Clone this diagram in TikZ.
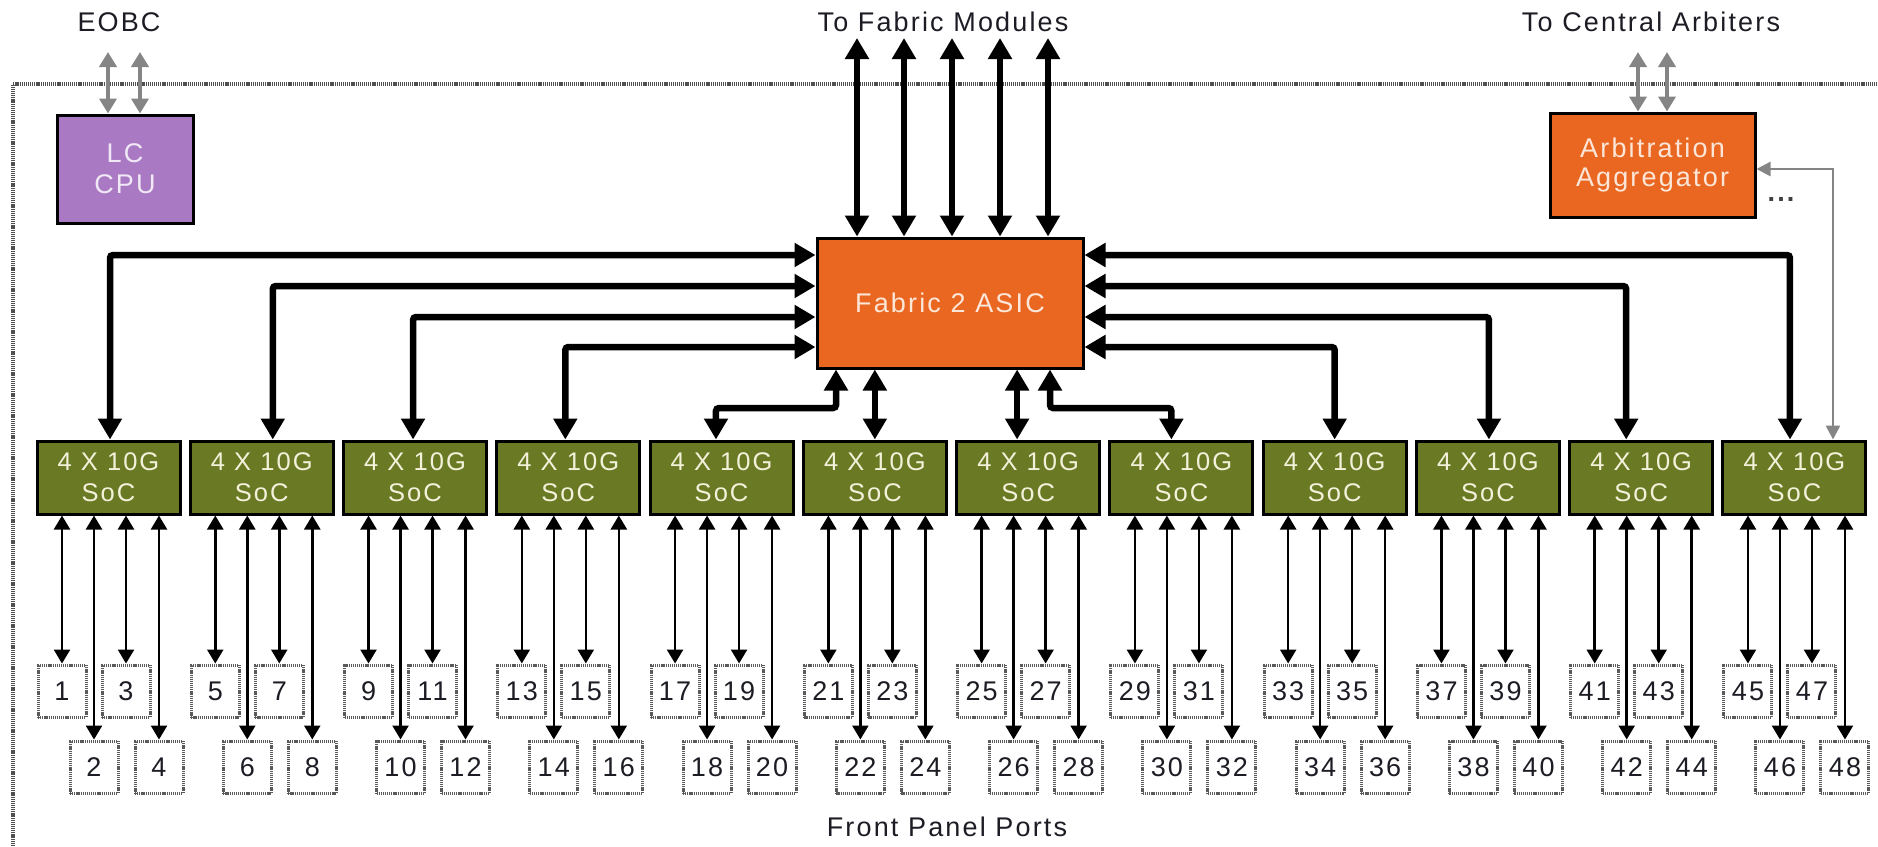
\documentclass[tikz,border=0pt]{standalone}
\usepackage{fontspec}
\setmainfont{Liberation Sans}[LetterSpace=8]
\usetikzlibrary{arrows.meta}
\definecolor{cpufill}{HTML}{A97AC3}
\definecolor{cputext}{HTML}{F1E8F6}
\definecolor{orangefill}{HTML}{EA6722}
\definecolor{orangetext}{HTML}{FCE6D8}
\definecolor{socfill}{HTML}{6A7A24}
\definecolor{soctext}{HTML}{F3F1DA}
\definecolor{inktext}{HTML}{1C1C24}
\definecolor{graywire}{HTML}{858585}
\definecolor{framegray}{HTML}{505050}
\definecolor{portgray}{HTML}{5A5A5A}
\begin{document}
\begin{tikzpicture}[x=1pt,y=-1pt,
  lbl/.style={font=\fontsize{27}{31}\selectfont, text=inktext, inner sep=0pt},
  box/.style={draw=black, line width=3pt, inner sep=0pt, align=center},
  cpubox/.style={box, fill=cpufill, text=cputext, minimum width=136pt, minimum height=108pt, font=\fontsize{27}{31}\selectfont},
  asicbox/.style={box, fill=orangefill, text=orangetext, minimum width=266pt, minimum height=130pt, font=\fontsize{27}{31}\selectfont},
  arbbox/.style={box, fill=orangefill, text=orangetext, minimum width=205pt, minimum height=104pt, font=\fontsize{27}{29}\selectfont},
  socbox/.style={box, fill=socfill, text=soctext, minimum width=143pt, minimum height=73pt, font=\fontsize{25.5}{31}\selectfont},
  portbox/.style={draw=portgray, line width=3pt, dash pattern=on 1.2pt off 0.9pt, fill=white, minimum width=48pt, minimum height=52pt, inner sep=0pt, font=\fontsize{27}{30}\selectfont, text=inktext},
  frameline/.style={draw=framegray, line width=3.5pt, dash pattern=on 1.2pt off 0.9pt},
  bus/.style={line width=6.5pt, draw=black, rounded corners=3pt, arrows={Triangle[length=21pt,width=23pt]-Triangle[length=21pt,width=23pt]}},
  lane/.style={line width=2.5pt, draw=black, arrows={Triangle[length=14pt,width=16pt]-Triangle[length=14pt,width=16pt]}},
  mgmt/.style={line width=4pt, draw=graywire, arrows={Triangle[length=15pt,width=17pt]-Triangle[length=15pt,width=17pt]}},
  arbwire/.style={line width=2.5pt, draw=graywire, arrows={Triangle[length=14pt,width=14pt]-Triangle[length=14pt,width=14pt]}},
]
\useasboundingbox (0,0) rectangle (1878,846);

% outer line-card frame (only top and left edges visible)
\draw[frameline] (13,846) -- (13,84) -- (1878,84);

% labels
\node[lbl] (eobc) at (119,22) {EOBC};
\node[lbl] (fmlbl) at (943,22) {To Fabric Modules};
\node[lbl] (calbl) at (1651,22) {To Central Arbiters};
\node[lbl] (fpp) at (947,827) {Front Panel Ports};

% main blocks
\node[cpubox] (cpu) at (125,169) {LC\\CPU};
\node[asicbox] (asic) at (950,303) {Fabric 2 ASIC};
\node[arbbox] (arb) at (1652.5,165) {Arbitration\\Aggregator};
\node[lbl, text=darkgray, font=\bfseries\fontsize{27}{31}\selectfont] (dots) at (1781,199) {...};

\coordinate (topend) at (0,38);
\coordinate (mgmtend) at (0,52);
\coordinate (elb) at (0,408);

% fabric module links
\foreach \dx in {-93,-46,2,50,98}
  \draw[bus] ([xshift=\dx pt]asic.north) -- ([xshift=\dx pt]asic.north |- topend);

% EOBC and central arbiter links
\foreach \dx in {-17,15}
  \draw[mgmt] ([xshift=\dx pt]cpu.north) -- ([xshift=\dx pt]cpu.north |- mgmtend);
\foreach \dx in {-14.5,14.5}
  \draw[mgmt] ([xshift=\dx pt]arb.north) -- ([xshift=\dx pt]arb.north |- mgmtend);

% SoCs
\foreach \i in {1,...,12}{
  \pgfmathsetmacro\cx{108.5+153.27*(\i-1)}
  \node[socbox] (soc\i) at (\cx,477.5) {4 X 10G\\SoC};
}

% front panel ports
\foreach \i in {1,...,12}{
  \foreach \j/\off/\py in {1/25/691,2/57/767,3/89/691,4/122/767}{
    \pgfmathtruncatemacro\pn{4*(\i-1)+\j}
    \pgfmathsetmacro\px{37+153.27*(\i-1)+\off}
    \node[portbox] (p\pn) at (\px,\py) {\pn};
    \draw[lane] (p\pn.north |- soc\i.south) -- (p\pn.north);
  }
}

% ASIC to SoC buses
\draw[bus] ([yshift=48pt]asic.west) -| ([xshift=1.5pt]soc1.north);
\draw[bus] ([yshift=17pt]asic.west) -| ([xshift=11pt]soc2.north);
\draw[bus] ([yshift=-14pt]asic.west) -| ([xshift=-2pt]soc3.north);
\draw[bus] ([yshift=-44pt]asic.west) -| ([xshift=-3pt]soc4.north);
\draw[bus] ([yshift=48pt]asic.east) -| ([xshift=-4.5pt]soc12.north);
\draw[bus] ([yshift=17pt]asic.east) -| ([xshift=-15pt]soc11.north);
\draw[bus] ([yshift=-14pt]asic.east) -| ([xshift=1pt]soc10.north);
\draw[bus] ([yshift=-44pt]asic.east) -| (soc9.north);
\draw[bus] ([xshift=-114pt]asic.south) -- ([xshift=-114pt]asic.south |- elb) -| ([xshift=-5.6pt]soc5.north);
\draw[bus] (soc6.north |- asic.south) -- (soc6.north);
\draw[bus] ([xshift=-11pt]soc7.north |- asic.south) -- ([xshift=-11pt]soc7.north);
\draw[bus] ([xshift=100pt]asic.south) -- ([xshift=100pt]asic.south |- elb) -| ([xshift=-10pt]soc8.north);

% arbitration wire
\draw[arbwire] ([yshift=-4pt]arb.east) -| ([xshift=38.5pt]soc12.north);
\end{tikzpicture}
\end{document}
